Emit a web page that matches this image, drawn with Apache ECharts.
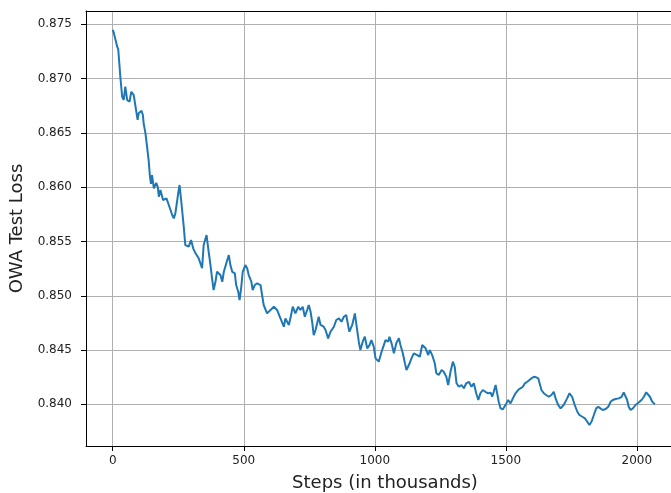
<!DOCTYPE html>
<html>
<head>
<meta charset="utf-8">
<script src="https://cdn.jsdelivr.net/npm/echarts@6/dist/echarts.min.js"></script>
<style>html,body{margin:0;padding:0;background:#fff;overflow:hidden;width:671px;height:493px;}#c{width:700px;height:493px;}</style>
</head>
<body>
<div id="c"></div>
<script>
const xTicks = [0, 500, 1000, 1500, 2000];
const yTicks = [0.840, 0.845, 0.850, 0.855, 0.860, 0.865, 0.870, 0.875];
const steps = [0,4,17,21,29,36,42,48,55,64,71,80,89,95,99,110,115,118,125,131,137,142,146,150,157,166,172,176,182,192,205,214,227,233,239,250,255,261,271,277,290,299,307,316,328,341,347,358,366,373,379,385,392,398,411,418,424,437,443,449,456,466,471,479,484,490,496,506,513,519,529,534,542,551,564,570,576,589,602,615,627,640,653,659,672,678,687,697,708,716,725,733,742,748,755,761,767,774,786,793,805,812,822,831,844,853,863,873,882,891,898,903,914,924,930,939,945,954,962,971,980,987,996,1003,1015,1028,1041,1051,1056,1064,1073,1082,1092,1098,1107,1115,1121,1130,1140,1149,1162,1172,1181,1187,1194,1204,1210,1219,1229,1235,1244,1255,1263,1273,1280,1289,1298,1305,1312,1321,1331,1340,1349,1359,1369,1378,1387,1395,1403,1412,1422,1433,1442,1448,1454,1461,1467,1473,1480,1489,1496,1502,1509,1518,1527,1537,1547,1556,1565,1573,1582,1590,1598,1607,1616,1624,1629,1636,1645,1654,1664,1674,1683,1690,1700,1709,1721,1734,1743,1753,1763,1773,1781,1792,1802,1811,1819,1827,1836,1845,1853,1861,1870,1881,1891,1900,1908,1919,1931,1942,1950,1957,1963,1969,1976,1985,1995,2008,2018,2027,2036,2043,2050,2059,2069];
const loss = [0.87448,0.87423,0.87294,0.87270,0.87017,0.86833,0.86803,0.86925,0.86803,0.86787,0.86879,0.86849,0.86711,0.86619,0.86680,0.86704,0.86665,0.86588,0.86496,0.86373,0.86250,0.86100,0.86030,0.86112,0.85990,0.86040,0.86000,0.85912,0.85974,0.85882,0.85897,0.85836,0.85744,0.85713,0.85759,0.85944,0.86020,0.85882,0.85636,0.85467,0.85452,0.85513,0.85437,0.85391,0.85345,0.85253,0.85467,0.85559,0.85406,0.85283,0.85161,0.85053,0.85129,0.85221,0.85191,0.85129,0.85221,0.85329,0.85375,0.85283,0.85221,0.85207,0.85099,0.85037,0.84961,0.85069,0.85221,0.85283,0.85253,0.85191,0.85129,0.85053,0.85099,0.85115,0.85099,0.85007,0.84915,0.84838,0.84869,0.84899,0.84869,0.84792,0.84715,0.84792,0.84731,0.84792,0.84899,0.84838,0.84899,0.84869,0.84899,0.84807,0.84869,0.84915,0.84853,0.84761,0.84638,0.84685,0.84807,0.84731,0.84715,0.84685,0.84608,0.84669,0.84715,0.84777,0.84792,0.84761,0.84807,0.84823,0.84731,0.84669,0.84731,0.84838,0.84731,0.84577,0.84500,0.84577,0.84623,0.84516,0.84546,0.84592,0.84531,0.84424,0.84393,0.84500,0.84592,0.84577,0.84623,0.84562,0.84470,0.84562,0.84608,0.84546,0.84470,0.84378,0.84316,0.84362,0.84424,0.84470,0.84454,0.84439,0.84546,0.84562,0.84516,0.84454,0.84500,0.84454,0.84378,0.84286,0.84270,0.84316,0.84300,0.84254,0.84178,0.84300,0.84393,0.84346,0.84194,0.84162,0.84178,0.84148,0.84194,0.84208,0.84162,0.84194,0.84102,0.84040,0.84102,0.84132,0.84116,0.84102,0.84107,0.84070,0.84116,0.84178,0.84102,0.84024,0.83963,0.83954,0.83963,0.84009,0.84040,0.84009,0.84055,0.84102,0.84132,0.84148,0.84162,0.84194,0.84208,0.84224,0.84240,0.84254,0.84249,0.84240,0.84194,0.84132,0.84102,0.84086,0.84070,0.84086,0.84116,0.84055,0.83994,0.83963,0.83994,0.84055,0.84102,0.84070,0.83994,0.83932,0.83902,0.83886,0.83871,0.83840,0.83810,0.83840,0.83902,0.83963,0.83978,0.83963,0.83948,0.83957,0.83978,0.84024,0.84040,0.84049,0.84055,0.84070,0.84111,0.84102,0.84040,0.83978,0.83948,0.83963,0.83994,0.84019,0.84040,0.84070,0.84111,0.84116,0.84070,0.84024,0.84000];

const chart = echarts.init(document.getElementById('c'), null, {renderer: 'canvas'});
const font = 'DejaVu Sans';
const xMin = -102, xMax = 2180;
chart.setOption({
  animation: false,
  backgroundColor: '#ffffff',
  grid: {left: 86, top: 11, width: 598, height: 435, show: false, containLabel: false, outerBoundsMode: 'none'},
  xAxis: [{
    type: 'value', min: xMin, max: xMax, position: 'bottom',
    name: 'Steps (in thousands)', nameLocation: 'middle', nameGap: 28,
    nameTextStyle: {fontFamily: font, fontSize: 18, color: '#222'},
    axisLine: {show: true, onZero: false, lineStyle: {color: '#000', width: 1}},
    axisTick: {show: true, length: 5, lineStyle: {color: '#000'}, customValues: xTicks},
    axisLabel: {customValues: xTicks, fontFamily: font, fontSize: 12, color: '#222', margin: 9,
      formatter: v => String(v)},
    splitLine: {show: true, lineStyle: {color: '#b0b0b0', width: 1}}
  }, {
    type: 'value', min: xMin, max: xMax, position: 'top',
    axisLine: {show: true, onZero: false, lineStyle: {color: '#000', width: 1}},
    axisTick: {show: false}, axisLabel: {show: false}, splitLine: {show: false}
  }],
  yAxis: {
    type: 'value', min: 0.836165, max: 0.876225,
    name: 'OWA Test Loss', nameLocation: 'middle', nameGap: 49,
    nameTextStyle: {fontFamily: font, fontSize: 18, color: '#222'},
    axisLine: {show: true, onZero: false, lineStyle: {color: '#000', width: 1}},
    axisTick: {show: true, length: 5, lineStyle: {color: '#000'}, customValues: yTicks},
    axisLabel: {customValues: yTicks, fontFamily: font, fontSize: 12, color: '#222', margin: 14,
      formatter: v => v.toFixed(3)},
    splitLine: {show: true, lineStyle: {color: '#b0b0b0', width: 1}}
  },
  series: [{
    type: 'line', xAxisIndex: 0, data: steps.map((s, i) => [s, loss[i]]),
    showSymbol: false, symbol: 'none', smooth: false,
    lineStyle: {color: '#1f77b4', width: 2}, clip: true
  }]
});
</script>
</body>
</html>
